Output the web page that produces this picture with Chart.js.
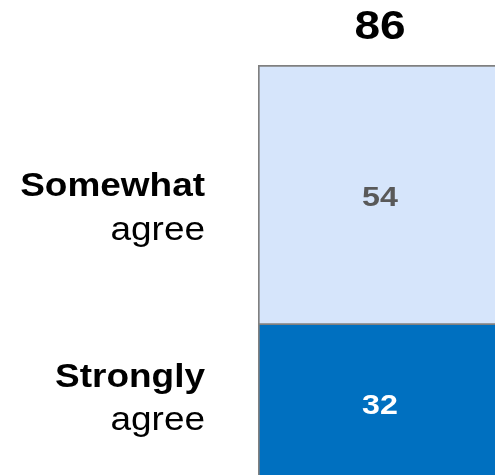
<!DOCTYPE html>
<html>
<head>
<meta charset="utf-8">
<script src="https://cdn.jsdelivr.net/npm/chart.js@4.4.1/dist/chart.umd.min.js"></script>
<style>
html,body{margin:0;padding:0;background:#fff;overflow:hidden;width:495px;height:475px;}
#wrap{position:absolute;left:0;top:0;width:520px;height:490px;}
</style>
</head>
<body>
<div id="wrap"><canvas id="c" width="520" height="490"></canvas></div>
<script>
const categories = ['Total'];
const seriesNames = [['Strongly', 'agree'], ['Somewhat', 'agree']];
const stronglyAgree = [32];
const somewhatAgree = [54];
const totals = [86];

const FONT = '"Liberation Sans", Arial, Helvetica, sans-serif';

function drawStretched(ctx, text, x, y, font, color, align, sx) {
  ctx.save();
  ctx.font = font;
  ctx.fillStyle = color;
  ctx.textBaseline = 'alphabetic';
  ctx.translate(x, y);
  ctx.scale(sx, 1);
  const w = ctx.measureText(text).width;
  let dx = 0;
  if (align === 'center') dx = -w / 2;
  else if (align === 'right') dx = -w;
  ctx.textAlign = 'left';
  ctx.fillText(text, dx, 0);
  ctx.restore();
}

const labelPlugin = {
  id: 'labels',
  afterDatasetsDraw(chart) {
    const ctx = chart.ctx;
    const styles = [
      {color: '#ffffff', valueOffset: 12, lineOffsets: [-15, 28]},
      {color: '#595959', valueOffset: 11, lineOffsets: [1, 45]}
    ];
    chart.data.datasets.forEach((ds, i) => {
      const el = chart.getDatasetMeta(i).data[0];
      const cy = (el.y + el.base) / 2;
      drawStretched(ctx, String(ds.data[0]), el.x, cy + styles[i].valueOffset, 'bold 28px ' + FONT, styles[i].color, 'center', 1.15);
      const names = seriesNames[i];
      const offs = styles[i].lineOffsets;
      drawStretched(ctx, names[0], 205, cy + offs[0], 'bold 33px ' + FONT, '#000', 'right', 1.12);
      drawStretched(ctx, names[1], 205, cy + offs[1], '33px ' + FONT, '#000', 'right', 1.12);
    });
    const top = chart.getDatasetMeta(chart.data.datasets.length - 1).data[0];
    drawStretched(ctx, String(totals[0]), top.x, top.y - 26, 'bold 40px ' + FONT, '#000', 'center', 1.15);
  }
};

new Chart(document.getElementById('c'), {
  type: 'bar',
  data: {
    labels: categories,
    datasets: [
      {label: 'Strongly agree', data: stronglyAgree, backgroundColor: '#0070C0', borderColor: '#808080', borderWidth: {left: 2, top: 0, right: 0, bottom: 0}, borderSkipped: false},
      {label: 'Somewhat agree', data: somewhatAgree, backgroundColor: '#D6E5FB', borderColor: '#808080', borderWidth: {left: 2, top: 2, right: 0, bottom: 2}, borderSkipped: false}
    ]
  },
  options: {
    responsive: false,
    animation: false,
    devicePixelRatio: 1,
    layout: {padding: {left: 258, right: 18, top: 65, bottom: 11}},
    plugins: {legend: {display: false}, tooltip: {enabled: false}},
    datasets: {bar: {barPercentage: 1, categoryPercentage: 1}},
    scales: {
      x: {stacked: true, display: false},
      y: {stacked: true, display: false, min: 0, max: totals[0]}
    }
  },
  plugins: [labelPlugin]
});
</script>
</body>
</html>
